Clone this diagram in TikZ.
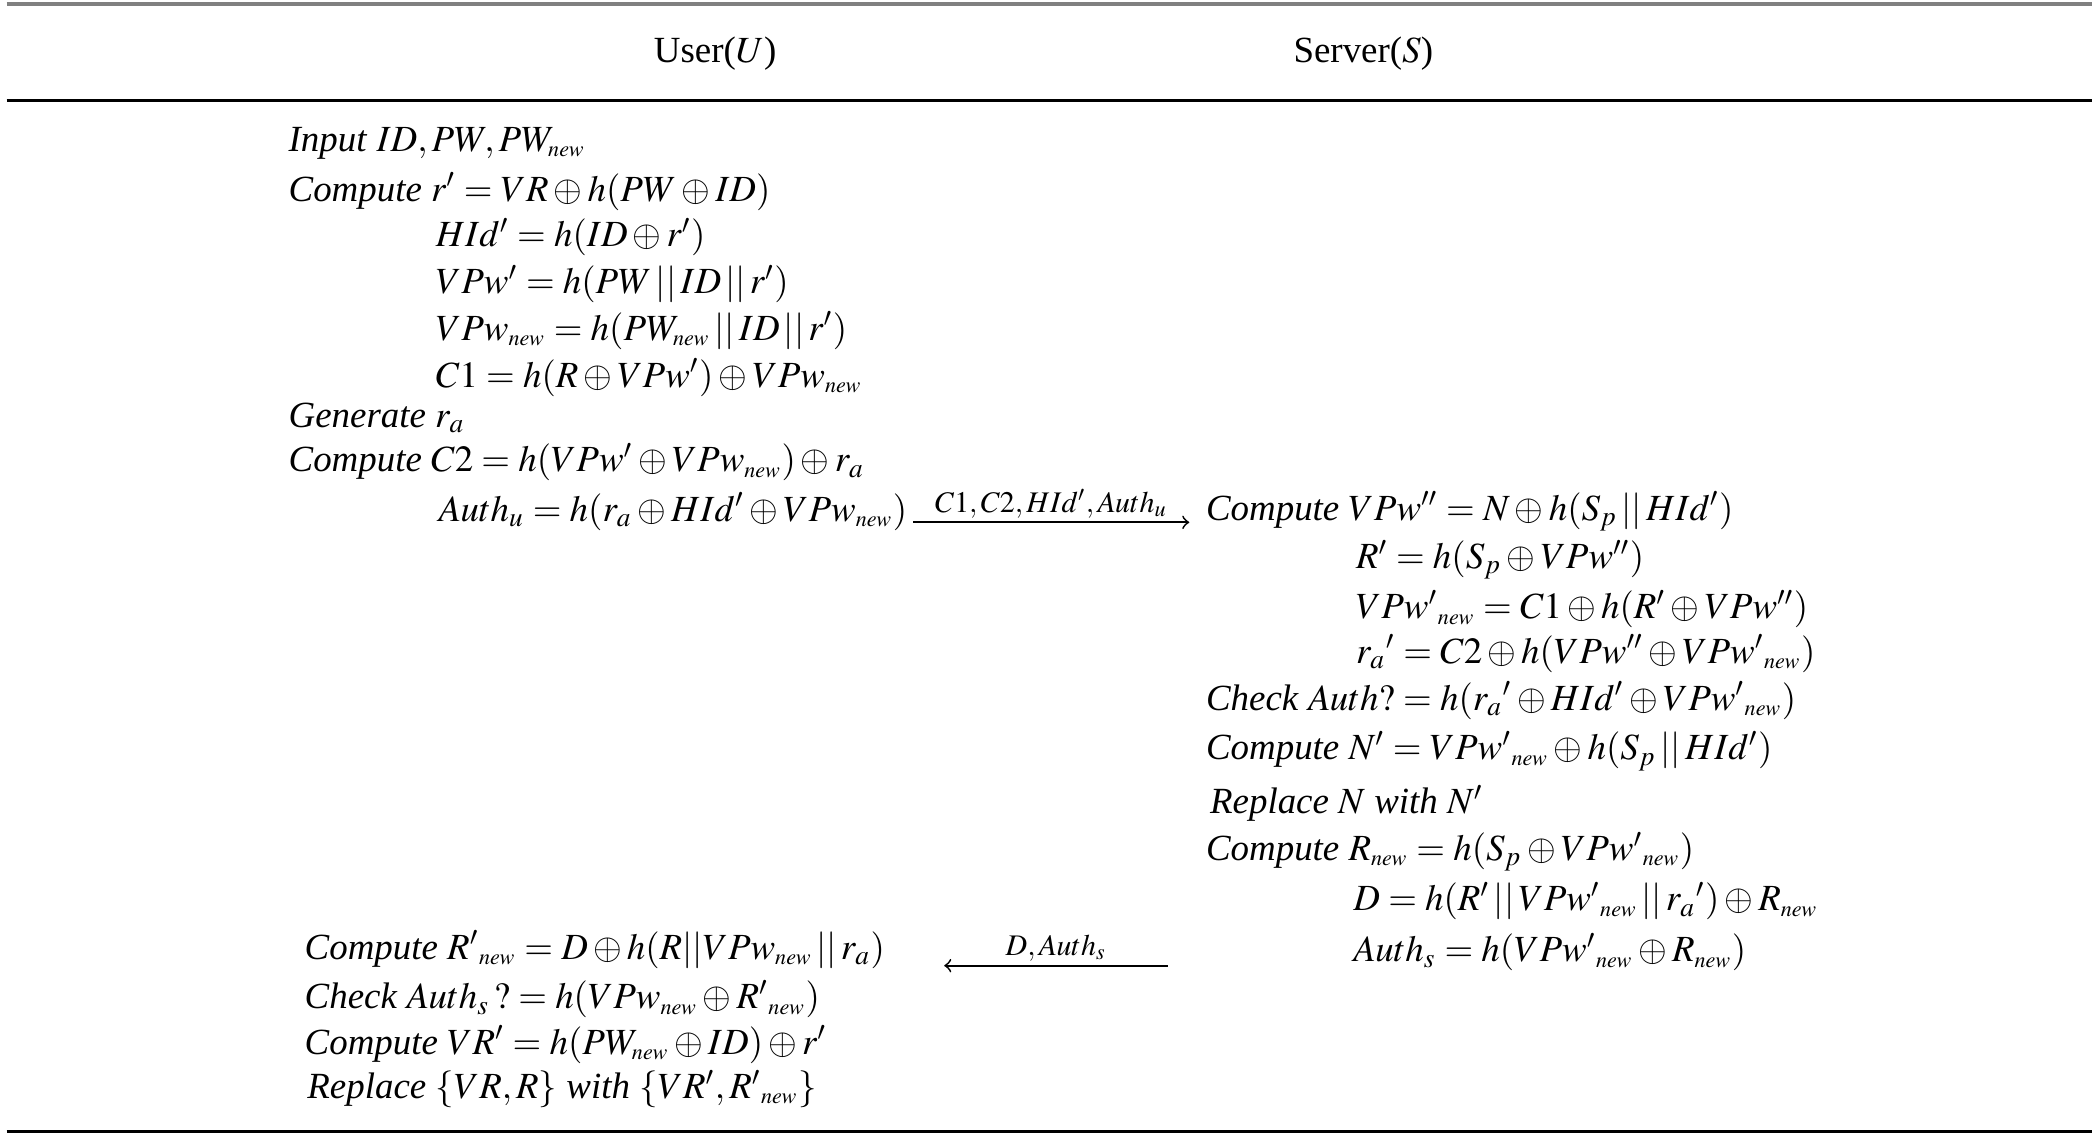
\documentclass[tikz,border=0pt]{standalone}
\usepackage{amsmath}
\usepackage{mathptmx}
\usepackage[no-math]{fontspec}
\setmainfont{Liberation Serif}
\usepackage{tikz}

\newcommand{\nw}{\scriptscriptstyle\mathit{new}}

\begin{document}
\begin{tikzpicture}[
    x=0.1339mm, y=-0.1339mm,
    eq/.style={anchor=west, inner sep=0pt, font=\fontsize{10.5}{12}\selectfont},
    head/.style={inner sep=0pt, font=\fontsize{10.5}{12}\selectfont},
    msg/.style={->, line width=0.5pt},
    lab/.style={above=1pt, inner sep=0pt, font=\fontsize{8.5}{10}\selectfont},
  ]
  \useasboundingbox (0,0) rectangle (1568,848);
  % les filets du tableau
  \draw[gray, line width=1pt] (5,3) -- (1562,3);
  \draw[line width=0.9pt] (5,75) -- (1562,75);
  \draw[line width=1pt] (5,845) -- (1562,845);
  \node[head] (user) at (534,40) {User($U$)};
  \node[head] (server) at (1018,40) {Server($S$)};

  % cote utilisateur
  \node[eq] (input) at (215,107) {\textit{Input} $ID, PW, PW_{\nw}$};
  \node[eq] (rp) at (215,143) {\textit{Compute} $r' = VR \oplus h(PW \oplus ID)$};
  \node[eq] (hid) at (325,177) {$HId' = h(ID \oplus r')$};
  \node[eq] (vpw) at (325,212) {$VPw' = h(PW \,||\, ID \,||\, r')$};
  \node[eq] (vpwn) at (325,247) {$VPw_{\nw} = h(PW_{\nw} \,||\, ID \,||\, r')$};
  \node[eq] (cone) at (325,282) {$C1 = h(R \oplus VPw') \oplus VPw_{\nw}$};
  \node[eq] (gen) at (215,312) {\textit{Generate} $r_a$};
  \node[eq] (ctwo) at (215,345) {\textit{Compute} $C2 = h(VPw' \oplus VPw_{\nw}) \oplus r_a$};
  \node[eq] (authu) at (327,382) {$Auth_u = h(r_a \oplus HId' \oplus VPw_{\nw})$};

  % cote serveur
  \node[eq] (vpws) at (900,382) {\textit{Compute} $VPw'' = N \oplus h(S_p \,||\, HId')$};
  \node[eq] (rs) at (1012,418) {$R' = h(S_p \oplus VPw'')$};
  \node[eq] (vpwns) at (1012,455) {${VPw'}_{\nw} = C1 \oplus h(R' \oplus VPw'')$};
  \node[eq] (ras) at (1012,488) {${r_a}' = C2 \oplus h(VPw'' \oplus {VPw'}_{\nw})$};
  \node[eq] (chk) at (900,523) {\textit{Check} $Auth? = h({r_a}' \oplus HId' \oplus {VPw'}_{\nw})$};
  \node[eq] (nn) at (900,561) {\textit{Compute} $N' = {VPw'}_{\nw} \oplus h(S_p \,||\, HId')$};
  \node[eq] (repn) at (903,600) {\textit{Replace} $N$ \textit{with} $N'$};
  \node[eq] (rnew) at (900,636) {\textit{Compute} $R_{\nw} = h(S_p \oplus {VPw'}_{\nw})$};
  \node[eq] (dd) at (1010,673) {$D = h(R' \,||\, {VPw'}_{\nw} \,||\, {r_a}') \oplus R_{\nw}$};
  \node[eq] (auths) at (1010,711) {$Auth_s = h({VPw'}_{\nw} \oplus R_{\nw})$};

  % retour utilisateur
  \node[eq] (rnu) at (227,709) {\textit{Compute} ${R'}_{\nw} = D \oplus h(R||VPw_{\nw} \,||\, r_a)$};
  \node[eq] (chku) at (227,746) {\textit{Check} $Auth_s\,? = h(VPw_{\nw} \oplus {R'}_{\nw})$};
  \node[eq] (vrp) at (227,780) {\textit{Compute} $VR' = h(PW_{\nw} \oplus ID) \oplus r'$};
  \node[eq] (repu) at (229,813) {\textit{Replace} $\{VR, R\}$ \textit{with} $\{VR', {R'}_{\nw}\}$};

  % messages
  \coordinate (mua) at (682,390);
  \coordinate (mub) at (888,390);
  \draw[msg] (mua) -- node[lab] {$C1, C2, HId', Auth_u$} (mub);
  \coordinate (msa) at (872,721);
  \coordinate (msb) at (705,721);
  \draw[msg] (msa) -- node[lab] {$D, Auth_s$} (msb);
\end{tikzpicture}
\end{document}
